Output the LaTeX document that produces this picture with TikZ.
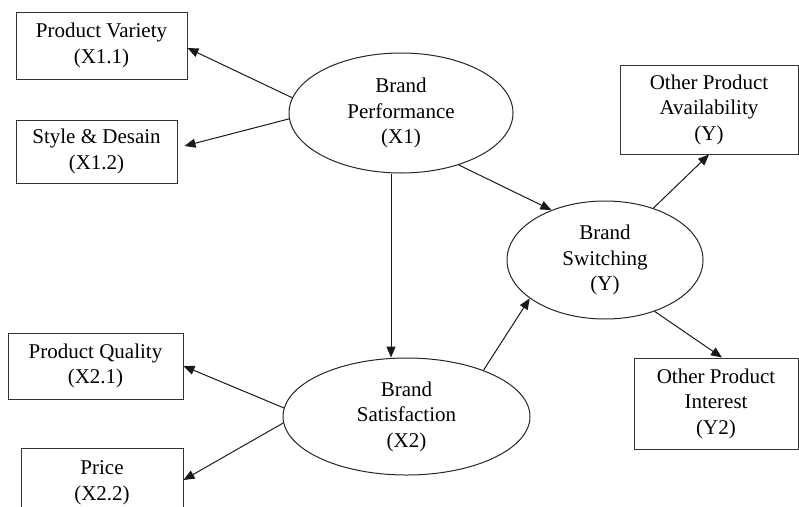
\documentclass[tikz,border=0pt]{standalone}
\usepackage{fontspec}
\setmainfont{Liberation Serif}
\usetikzlibrary{arrows.meta,shapes.geometric}
\begin{document}
\begin{tikzpicture}[x=1pt,y=-1pt,
  txt/.style={font=\fontsize{21}{25.5}\selectfont, align=center, text=black},
  indicator/.style={txt, draw=black!80, line width=1pt, rectangle, inner sep=0pt},
  construct/.style={txt, draw=black!85, line width=1pt, ellipse, inner sep=0pt},
  arr/.style={draw=black!90, line width=1pt, -{Triangle[length=11pt,width=9pt]}}]
\clip (0,0) rectangle (799,506);
\fill[white] (0,0) rectangle (799,506);

% latent constructs
\node[construct, minimum width=224pt, minimum height=120pt] (bp) at (401,113) {Brand\\Performance\\(X1)};
\node[construct, minimum width=247pt, minimum height=117pt] (bs) at (406.5,416.5) {Brand\\Satisfaction\\(X2)};
\node[construct, minimum width=196pt, minimum height=118pt] (bsw) at (605,260) {Brand\\Switching\\(Y)};

% indicators
\node[indicator, minimum width=171pt, minimum height=67pt] (pv) at (101.5,45.5) {Product Variety\\(X1.1)};
\node[indicator, minimum width=161pt, minimum height=63pt] (sd) at (96.5,151.5) {Style \& Desain\\(X1.2)};
\node[indicator, minimum width=175pt, minimum height=66pt] (pq) at (95.5,366) {Product Quality\\(X2.1)};
\node[indicator, minimum width=162pt, minimum height=70pt] (pr) at (102,483) {Price\\(X2.2)};
\node[indicator, minimum width=178pt, minimum height=89pt] (av) at (709,109.5) {Other Product\\Availability\\(Y)};
\node[indicator, minimum width=164pt, minimum height=91pt] (intr) at (716,403.5) {Other Product\\Interest\\(Y2)};

% paths
\draw[arr] (bp.172) -- ([yshift=-2.5pt]pv.east);
\draw[arr] (bp.183) -- ([xshift=7pt,yshift=5.5pt]sd.east);
\coordinate (vtop) at ([xshift=-10pt]bp.south);
\draw[arr] (vtop) -- (vtop |- bs.north);
\draw[arr] (bp.-42) -- (bsw.137);
\draw[arr] (bs.176) -- (pq.east);
\draw[arr] (bs.183) -- ([yshift=3pt]pr.east);
\draw[arr] (bs.31) -- (bsw.207);
\draw[arr] (bsw.47) -- (av.south);
\draw[arr] (bsw.-46) -- ([xshift=6pt]intr.north);
\end{tikzpicture}
\end{document}
